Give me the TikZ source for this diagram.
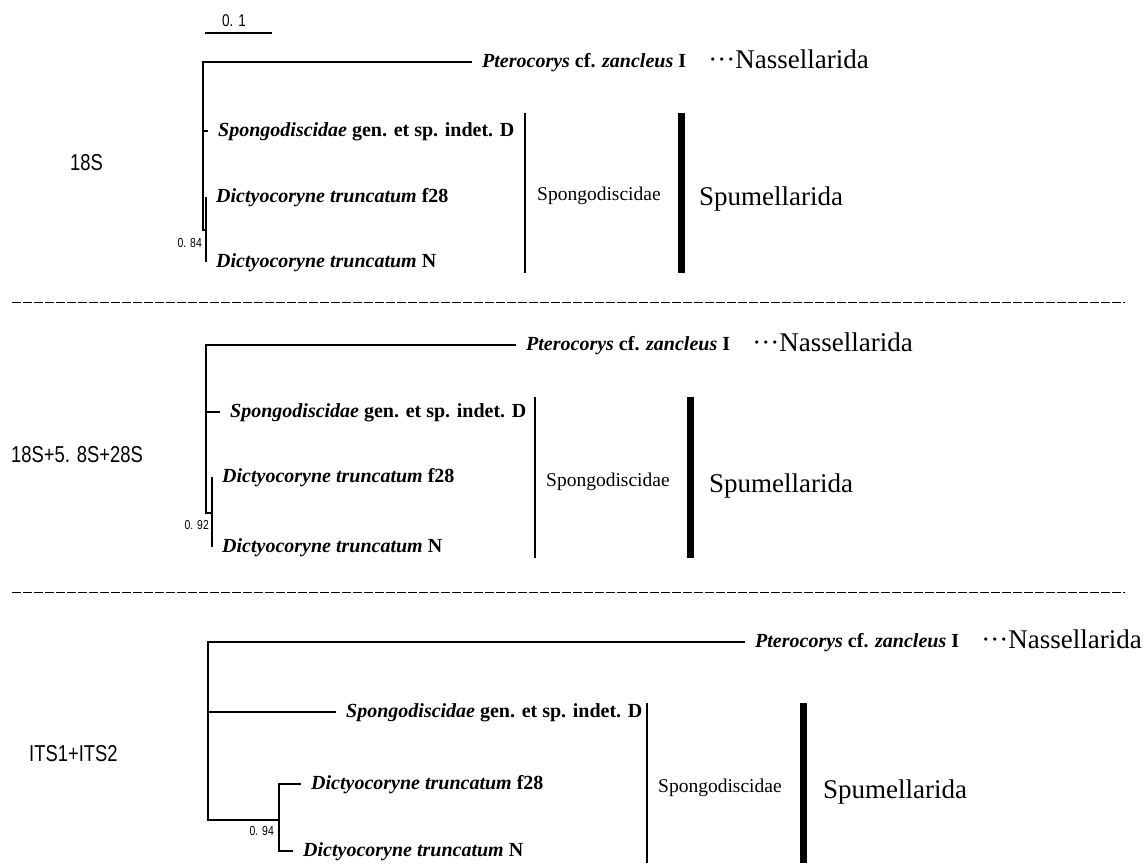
\documentclass[tikz,border=0pt]{standalone}
\usepackage{fontspec}
\setmainfont{Liberation Serif}
\newfontfamily\gothic[FakeStretch=0.8]{Liberation Sans}
\usepackage{tikz}

\tikzset{
  branch/.style={line width=1.5pt},
  leaf/.style={anchor=west,inner xsep=10pt,inner ysep=0pt,text height=14pt,text depth=4pt,
    font=\fontsize{20}{20}\selectfont\bfseries},
  gene/.style={anchor=west,inner sep=0pt,font=\gothic\fontsize{23}{23}\selectfont},
  support/.style={anchor=east,inner sep=0pt,font=\gothic\fontsize{13}{13}\selectfont},
  fam/.style={anchor=west,inner sep=0pt,text height=13pt,text depth=4pt,font=\fontsize{19.5}{20}\selectfont},
  order/.style={anchor=west,inner sep=0pt,text height=18pt,text depth=6pt,font=\fontsize{27}{27}\selectfont},
  bracket/.style={line width=1.6pt},
  bar/.style={line width=7pt},
  sep/.style={line width=1pt,dash pattern=on 9pt off 2pt}
}

\begin{document}
\begin{tikzpicture}[x=1pt,y=-1pt]
  \useasboundingbox (0,0) rectangle (1145,863);

  \node[support,anchor=center,font=\gothic\fontsize{17}{17}\selectfont] (bar) at (234,21) {0. 1};
  \draw[branch] (205,33) -- (272,33);

  % 18S
  \node[gene] (g1) at (70,163) {18S};
  \coordinate (r1) at (203,230);
  \coordinate (c1) at (206,230);
  \node[leaf] (p1) at (472,62) {\textit{Pterocorys} cf. \textit{zancleus} I};
  \node[leaf] (s1) at (208,131) {\textit{Spongodiscidae} gen. et sp. indet. D};
  \node[leaf] (f1) at (206,197) {\textit{Dictyocoryne truncatum} f28};
  \node[leaf] (n1) at (206,262) {\textit{Dictyocoryne truncatum} N};
  \draw[branch] (p1.west) -| (r1) -- (c1);
  \draw[branch] (s1.west) -- (s1.west -| r1);
  \draw[branch] (f1.west) -- (n1.west);
  \node[support] (b1) at (202,243) {0. 84};
  \node[order] (na1) at ([xshift=12pt]p1.east) {···Nassellarida};
  \draw[bracket] (525,113) -- (525,273);
  \node[fam] (sp1) at (537,196) {Spongodiscidae};
  \draw[bar] (681,113) -- (681,273);
  \node[order] (sm1) at (699,199) {Spumellarida};

  \draw[sep] (12,302) -- (1125,302);

  % 18S+5.8S+28S
  \node[gene] (g2) at (11,455) {18S+5. 8S+28S};
  \coordinate (r2) at (206,513);
  \coordinate (c2) at (212,513);
  \node[leaf] (p2) at (516,345) {\textit{Pterocorys} cf. \textit{zancleus} I};
  \node[leaf] (s2) at (220,412) {\textit{Spongodiscidae} gen. et sp. indet. D};
  \node[leaf] (f2) at (212,477) {\textit{Dictyocoryne truncatum} f28};
  \node[leaf] (n2) at (212,547) {\textit{Dictyocoryne truncatum} N};
  \draw[branch] (p2.west) -| (r2) -- (c2);
  \draw[branch] (s2.west) -- (s2.west -| r2);
  \draw[branch] (f2.west) -- (n2.west);
  \node[support] (b2) at (209,525) {0. 92};
  \node[order] (na2) at ([xshift=12pt]p2.east) {···Nassellarida};
  \draw[bracket] (535,397) -- (535,558);
  \node[fam] (sp2) at (546,482) {Spongodiscidae};
  \draw[bar] (690,397) -- (690,558);
  \node[order] (sm2) at (709,486) {Spumellarida};

  \draw[sep] (12,592) -- (1125,592);

  % ITS1+ITS2
  \node[gene] (g3) at (29,754) {ITS1+ITS2};
  \coordinate (r3) at (208,820);
  \coordinate (c3) at (279,820);
  \node[leaf] (p3) at (745,642) {\textit{Pterocorys} cf. \textit{zancleus} I};
  \node[leaf] (s3) at (336,712) {\textit{Spongodiscidae} gen. et sp. indet. D};
  \node[leaf] (f3) at (301,784) {\textit{Dictyocoryne truncatum} f28};
  \node[leaf] (n3) at (293,851) {\textit{Dictyocoryne truncatum} N};
  \draw[branch] (p3.west) -| (r3) -- (c3);
  \draw[branch] (s3.west) -- (s3.west -| r3);
  \draw[branch] (f3.west) -| (c3) |- (n3.west);
  \node[support] (b3) at (274,831) {0. 94};
  \node[order] (na3) at ([xshift=12pt]p3.east) {···Nassellarida};
  \draw[bracket] (647,703) -- (647,863);
  \node[fam] (sp3) at (658,788) {Spongodiscidae};
  \draw[bar] (803,703) -- (803,863);
  \node[order] (sm3) at (823,792) {Spumellarida};
\end{tikzpicture}
\end{document}
